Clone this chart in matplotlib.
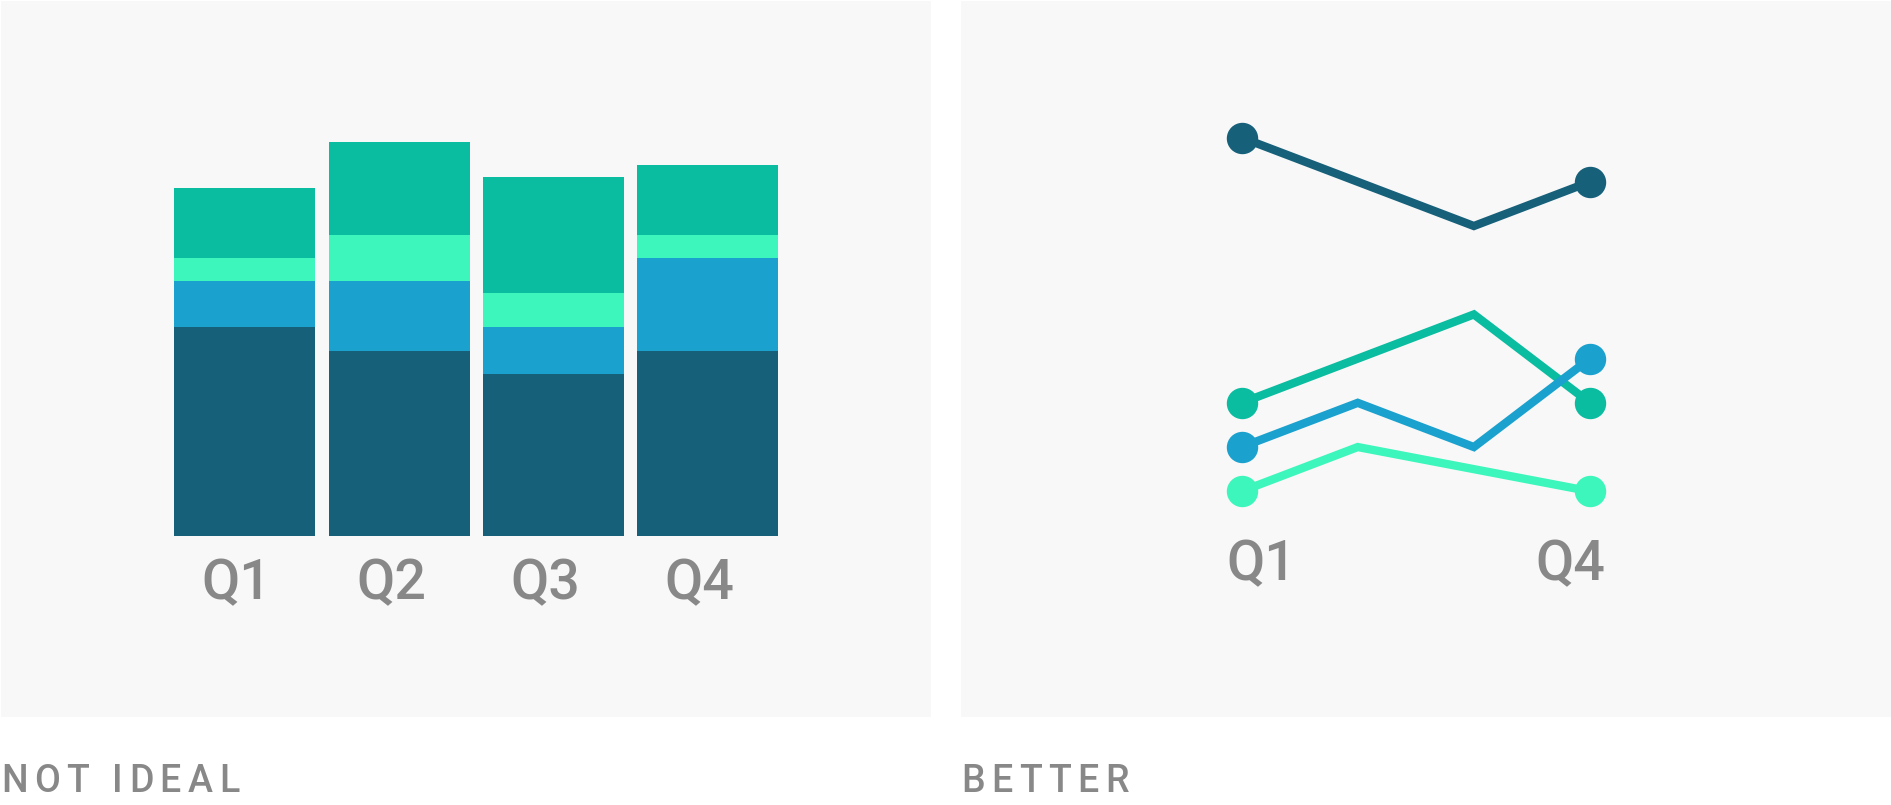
import matplotlib
matplotlib.use('Agg')
import matplotlib.pyplot as plt
from matplotlib.transforms import IdentityTransform
from matplotlib.font_manager import FontProperties

# data
quarters = ['Q1', 'Q2', 'Q3', 'Q4']
dark = [9, 8, 7, 8]
blue = [2, 3, 2, 4]
mint = [1, 2, 1.5, 1]
green = [3, 4, 5, 3]

DARK = '#16607A'
BLUE = '#1AA1CE'
MINT = '#3CF6BC'
GREEN = '#0ABCA0'
PANEL = '#F8F8F8'
GRAY = '#888888'

plt.rcParams['font.family'] = ['Roboto', 'DejaVu Sans']

W, H = 1891, 805
fig = plt.figure(figsize=(W / 100, H / 100), dpi=100)
fig.patch.set_facecolor('white')


def px_axes(x0, y0, x1, y1):
    # pixel box measured from the top left of the picture
    ax = fig.add_axes([x0 / W, (H - y1) / H, (x1 - x0) / W, (y1 - y0) / H])
    ax.set_facecolor(PANEL)
    for s in ax.spines.values():
        s.set_visible(False)
    ax.set_xticks([])
    ax.set_yticks([])
    return ax


# left: stacked bars
ax1 = px_axes(1, 1, 931, 716.7)
ax1.set_xlim(-1.580, 4.447)
ax1.set_ylim(-7.776, 23.07)
x = list(range(len(quarters)))
bottom = [0] * 4
for vals, c in [(dark, DARK), (blue, BLUE), (mint, MINT), (green, GREEN)]:
    ax1.bar(x, vals, width=0.914, bottom=bottom, color=c, linewidth=0)
    bottom = [b + v for b, v in zip(bottom, vals)]
for i, q in enumerate(quarters):
    ax1.annotate(q, (i, 0), xytext=(-8, -63), textcoords='offset pixels',
                 ha='center', va='baseline', fontsize=40, fontweight='medium',
                 color=GRAY)

# right: lines
ax2 = px_axes(960.7, 1, 1891, 716.7)
ax2.set_xlim(-2.420, 5.593)
ax2.set_ylim(-4.10, 12.09)
for vals, c in [(dark, DARK), (mint, MINT), (green, GREEN), (blue, BLUE)]:
    ax2.plot(x, vals, color=c, lw=6, marker='o', ms=21.6, markevery=[0, 3],
             solid_joinstyle='miter', solid_capstyle='butt')
ax2.annotate(quarters[0], (0, 0), xytext=(-15, -44.5), textcoords='offset pixels',
             ha='left', va='baseline', fontsize=40, fontweight='medium', color=GRAY)
ax2.annotate(quarters[-1], (3, 0), xytext=(15, -44.5), textcoords='offset pixels',
             ha='right', va='baseline', fontsize=40, fontweight='medium', color=GRAY)

# letter-spaced captions
renderer = fig.canvas.get_renderer()
prop = FontProperties(family=['Roboto'], size=27, weight='medium')


def tw(s):
    return renderer.get_text_width_height_descent(s, prop, ismath=False)[0]


def spaced(s, x0, base, track):
    bar_w = tw('|')
    for i, ch in enumerate(s):
        off = tw(s[:i] + '|') - bar_w if i else 0
        fig.text(x0 + off + i * track, H - base, ch, transform=IdentityTransform(),
                 fontproperties=prop, color=GRAY, ha='left', va='baseline')


spaced('NOT IDEAL', 1, 791.7, 6.5)
spaced('BETTER', 961, 791.7, 6.5)

fig.savefig('out.png', dpi=100, facecolor='white')
